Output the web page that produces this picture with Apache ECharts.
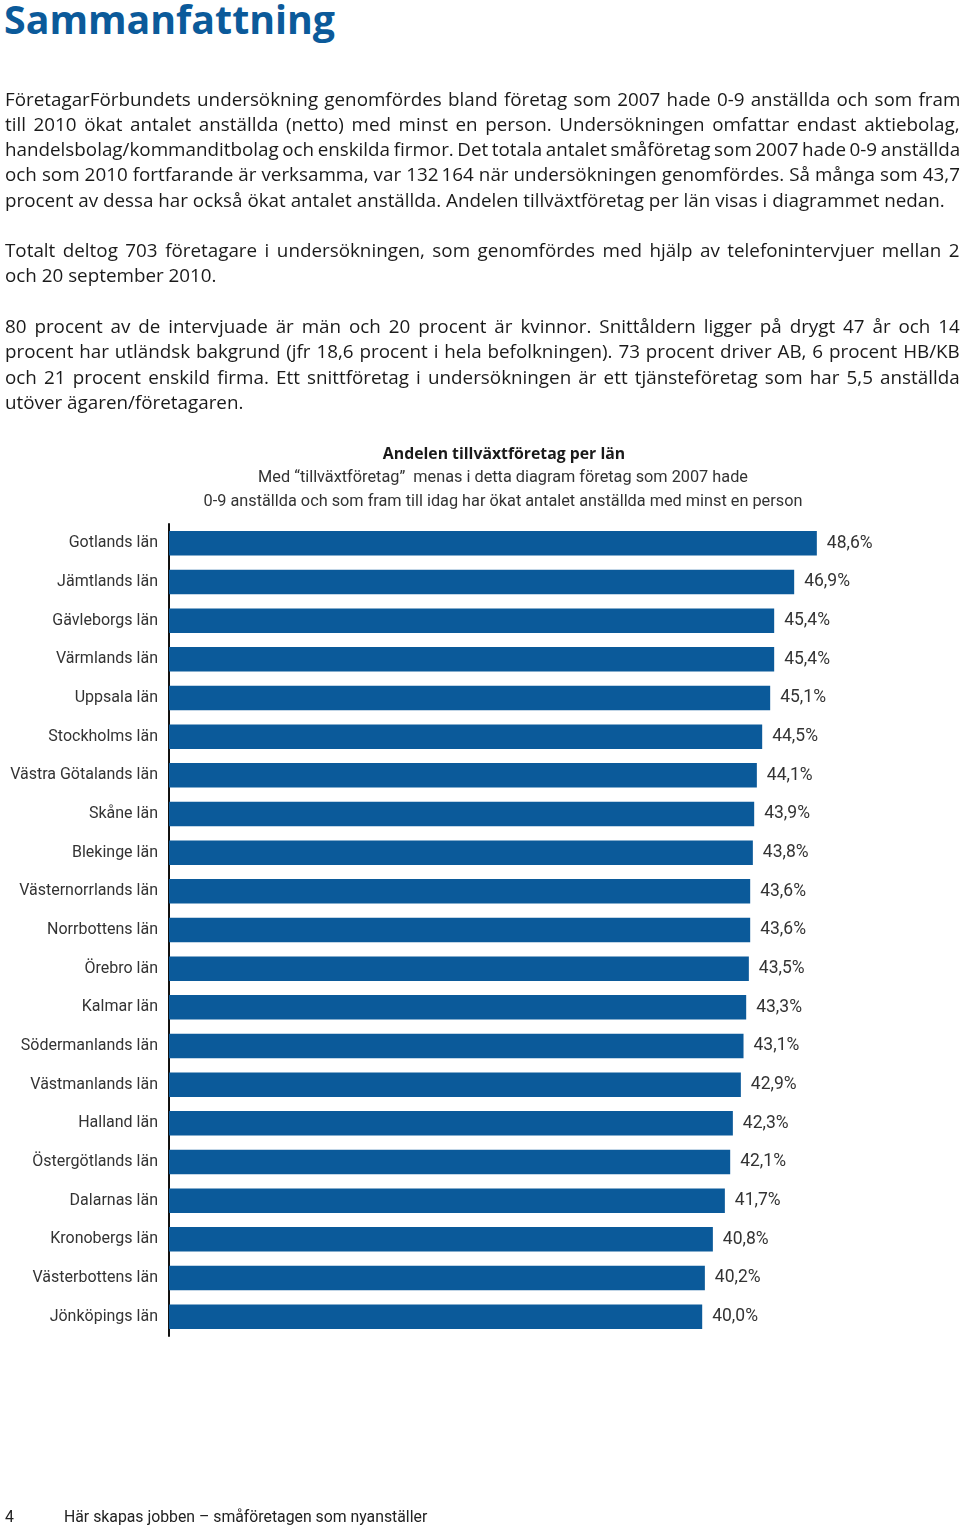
<!DOCTYPE html>
<html><head><meta charset="utf-8">
<script src="https://cdn.jsdelivr.net/npm/echarts@6/dist/echarts.min.js"></script>
<style>
html,body{margin:0;padding:0;background:#fff;}
#page{position:relative;width:960px;height:1531px;overflow:hidden;background:#fff;}
#chart{position:absolute;left:0;top:0;width:960px;height:1531px;}
#h1{position:absolute;left:4px;top:-11px;font-weight:bold;font-size:39.3px;font-family:'Open Sans',sans-serif;color:#0b5a9a;white-space:nowrap;line-height:60px;}
.line{position:absolute;left:5px;white-space:nowrap;font-family:'Open Sans',sans-serif;color:#1a1a1a;line-height:26px;height:26px;}
.foot{position:absolute;white-space:nowrap;font-family:Roboto,sans-serif;font-size:15.8px;color:#222;line-height:20px;}
</style></head>
<body>
<div id="page">
<div id="h1">Sammanfattning</div>
<div id="chart"></div>
<div class="foot" style="left:5px;top:1507px;">4</div>
<div class="foot" style="left:64px;top:1507px;">Här skapas jobben – småföretagen som nyanställer</div>
</div>
<script>
// ---- Data ----
const categories = ["Gotlands län","Jämtlands län","Gävleborgs län","Värmlands län","Uppsala län","Stockholms län","Västra Götalands län","Skåne län","Blekinge län","Västernorrlands län","Norrbottens län","Örebro län","Kalmar län","Södermanlands län","Västmanlands län","Halland län","Östergötlands län","Dalarnas län","Kronobergs län","Västerbottens län","Jönköpings län"];
const values = [48.6,46.9,45.4,45.4,45.1,44.5,44.1,43.9,43.8,43.6,43.6,43.5,43.3,43.1,42.9,42.3,42.1,41.7,40.8,40.2,40.0];
const chartTitle = "Andelen tillväxtföretag per län";
const chartSub1 = "Med \u201Ctillväxtföretag\u201D  menas i detta diagram företag som 2007 hade";
const chartSub2 = "0-9 anställda och som fram till idag har ökat antalet anställda med minst en person";

// ---- Body text (each line, justified or not) ----
const textLines = [
 ["FöretagarFörbundets undersökning genomfördes bland företag som 2007 hade 0-9 anställda och som fram",99,1],
 ["till 2010 ökat antalet anställda (netto) med minst en person. Undersökningen omfattar endast aktiebolag,",124,1],
 ["handelsbolag/kommanditbolag och enskilda firmor. Det totala antalet småföretag som 2007 hade 0-9 anställda",149,1],
 ["och som 2010 fortfarande är verksamma, var 132\u2009164 när undersökningen genomfördes. Så många som 43,7",174,1],
 ["procent av dessa har också ökat antalet anställda. Andelen tillväxtföretag per län visas i diagrammet nedan.",200,0],
 ["Totalt deltog 703 företagare i undersökningen, som genomfördes med hjälp av telefonintervjuer mellan 2",250,1],
 ["och 20 september 2010.",275,0],
 ["80 procent av de intervjuade är män och 20 procent är kvinnor. Snittåldern ligger på drygt 47 år och 14",326,1],
 ["procent har utländsk bakgrund (jfr 18,6 procent i hela befolkningen). 73 procent driver AB, 6 procent HB/KB",351,1],
 ["och 21 procent enskild firma. Ett snittföretag i undersökningen är ett tjänsteföretag som har 5,5 anställda",377,1],
 ["utöver ägaren/företagaren.",402,0]
];
const page = document.getElementById('page');
const probe = document.createElement('span');
probe.className='line'; probe.style.fontSize='17px'; probe.textContent=textLines[4][0];
page.appendChild(probe);
const fs = 17*940/probe.offsetWidth;
page.removeChild(probe);
const target = 955;
textLines.forEach(([t,y,j])=>{
  const d=document.createElement('div');
  d.className='line'; d.style.fontSize=fs+'px'; d.style.top=(y-13)+'px';
  d.textContent=t; page.appendChild(d);
  if(j){
    const w=d.offsetWidth; const n=(t.match(/ /g)||[]).length;
    d.style.wordSpacing=((target-w)/n)+'px';
  }
});

// ---- Chart ----
const chart = echarts.init(document.getElementById('chart'), null, {renderer:'canvas'});
const barColor = '#0b5a9a';
chart.setOption({
  backgroundColor:'transparent',
  animation:false,
  graphic:[
    {type:'text',x:504,y:454,style:{text:chartTitle,textAlign:'center',textVerticalAlign:'middle',font:'bold 15.8px "Open Sans"',fill:'#1a1a1a'}},
    {type:'text',x:503,y:478,style:{text:chartSub1,textAlign:'center',textVerticalAlign:'middle',font:'16.3px Roboto',fill:'#333'}},
    {type:'text',x:503,y:502,style:{text:chartSub2,textAlign:'center',textVerticalAlign:'middle',font:'16.3px Roboto',fill:'#333'}}
  ],
  grid:{left:169,top:524,width:666.5,height:812,containLabel:false},
  xAxis:{type:'value',min:0,max:50,show:false},
  yAxis:{type:'category',inverse:true,data:categories,
    axisLine:{show:true,lineStyle:{color:'#111',width:2}},
    axisTick:{show:false},
    axisLabel:{fontFamily:'Roboto',fontSize:16,color:'#333',margin:11},
    splitLine:{show:false}},
  series:[{type:'bar',data:values,barWidth:24.5,itemStyle:{color:barColor},
    label:{show:true,position:'right',distance:10,fontFamily:'Roboto',fontSize:17.5,color:'#333',
      formatter:p=>p.value.toFixed(1).replace('.',',')+'%'}}]
});
</script>
</body></html>
